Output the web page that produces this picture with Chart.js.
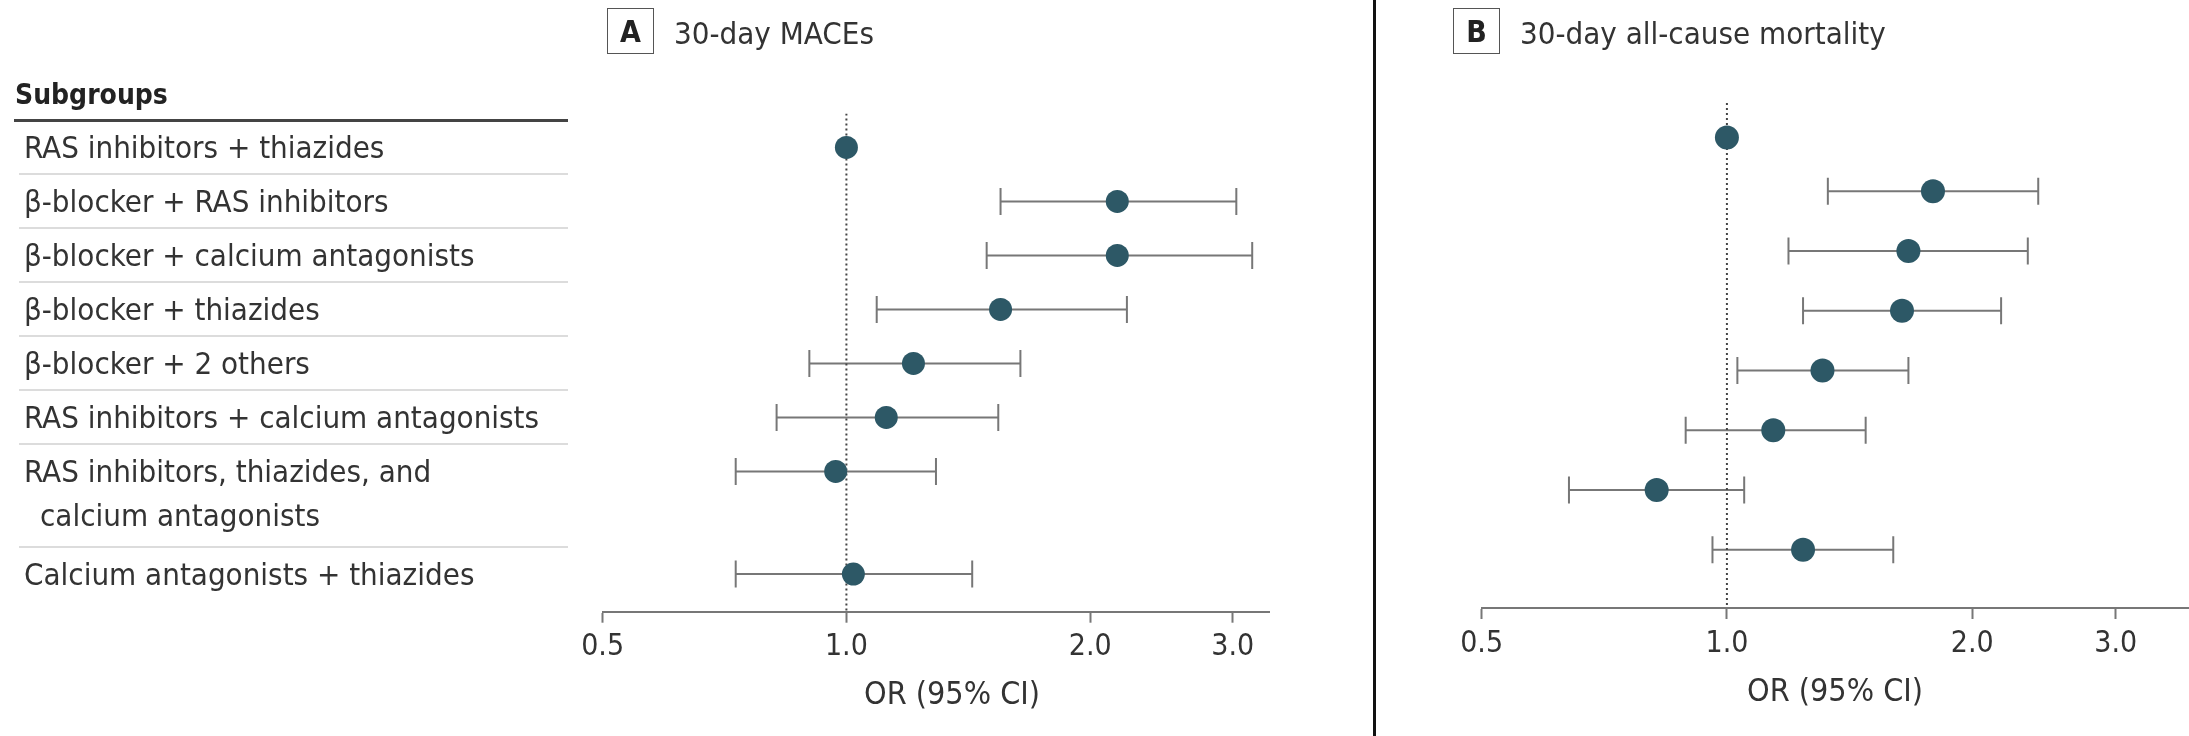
<!DOCTYPE html>
<html>
<head>
<meta charset="utf-8">
<script src="https://cdn.jsdelivr.net/npm/chart.js@4.4.1/dist/chart.umd.min.js"></script>
<style>
  html, body { margin: 0; padding: 0; background: #fff; }
  body {
    width: 2189px; height: 736px; position: relative; overflow: hidden;
    font-family: "DejaVu Sans Condensed", "DejaVu Sans", sans-serif; color: #333;
  }
  canvas { position: absolute; top: 0; }
  #chartA { left: 0; }
  #chartB { left: 1376px; }
  .divider { position: absolute; left: 1373px; top: 0; width: 3px; height: 736px; background: #111; }
  .panel-title {
    position: absolute; top: 8px; height: 46px;
    display: flex; align-items: center; font-size: 31px; white-space: nowrap;
  }
  .panel-title .tag {
    box-sizing: border-box; width: 47px; height: 46px; border: 1.5px solid #555;
    display: flex; align-items: center; justify-content: center;
    font-weight: bold; font-size: 30px; color: #222; margin-right: 20px;
  }
  .panel-title .txt { position: relative; top: 2px; }
  .axis-title { position: absolute; font-size: 32px; line-height: 1; transform: translate(-50%, -50%); white-space: nowrap; }
  .head { position: absolute; left: 15px; font-weight: bold; font-size: 28px; line-height: 44px; color: #222; }
  .rule { position: absolute; left: 19px; width: 549px; height: 2px; background: #dcdcdc; }
  .rule.top { left: 14px; width: 554px; height: 3px; background: #444; }
  .row-label { position: absolute; left: 24px; font-size: 31px; line-height: 44px; white-space: nowrap; }
  .row-label .cont { padding-left: 16px; }
</style>
</head>
<body>
<canvas id="chartA" width="1373" height="736"></canvas>
<canvas id="chartB" width="840" height="736"></canvas>
<div class="divider"></div>
<div class="panel-title" style="left:607px"><span class="tag">A</span><span class="txt">30-day MACEs</span></div>
<div class="panel-title" style="left:1453px"><span class="tag">B</span><span class="txt">30-day all-cause mortality</span></div>
<div class="axis-title" style="left:952px; top:693px">OR (95% CI)</div>
<div class="axis-title" style="left:1835px; top:690px">OR (95% CI)</div>
<div id="table"></div>
<script>
// subgroup labels (one array entry per printed line)
const subgroups = [
  ['RAS inhibitors + thiazides'],
  ['β-blocker + RAS inhibitors'],
  ['β-blocker + calcium antagonists'],
  ['β-blocker + thiazides'],
  ['β-blocker + 2 others'],
  ['RAS inhibitors + calcium antagonists'],
  ['RAS inhibitors, thiazides, and', 'calcium antagonists'],
  ['Calcium antagonists + thiazides']
];
const tickValues = [0.5, 1.0, 2.0, 3.0];

// A: 30-day MACEs, odds ratio and 95% CI (first row is the reference)
const macesOR   = [1.00, 2.16, 2.16, 1.55, 1.21, 1.12, 0.97, 1.02];
const macesLow  = [null, 1.55, 1.49, 1.09, 0.90, 0.82, 0.73, 0.73];
const macesHigh = [null, 3.03, 3.17, 2.22, 1.64, 1.54, 1.29, 1.43];

// B: 30-day all-cause mortality
const mortOR   = [1.00, 1.79, 1.67, 1.64, 1.31, 1.14, 0.82, 1.24];
const mortLow  = [null, 1.33, 1.19, 1.24, 1.03, 0.89, 0.64, 0.96];
const mortHigh = [null, 2.41, 2.34, 2.17, 1.67, 1.48, 1.05, 1.60];

const FONT = '"DejaVu Sans Condensed", "DejaVu Sans", sans-serif';
const TEAL = '#2d5866';
const GREY = '#777';

// row slots: 1 per row, refGap after the reference row, wrapGap per extra label line
function rowPositions(refGap, wrapGap) {
  let pos = 0;
  return subgroups.map((lines, i) => {
    if (i > 0) pos += (i === 1 ? refGap : 1) + (subgroups[i - 1].length - 1) * wrapGap;
    return pos;
  });
}

function forest(id, cfg) {
  const { or, low, high, pos } = cfg;
  const datasets = [{
    data: or.map((v, i) => ({ x: v, y: pos[i] })),
    pointRadius: cfg.radius,
    pointBackgroundColor: TEAL,
    pointBorderWidth: 0,
    order: 0
  }, {
    data: [{ x: 1, y: cfg.yMin }, { x: 1, y: cfg.yMax }],
    showLine: true,
    borderColor: '#444',
    borderWidth: 2,
    borderDash: [2, 3],
    pointRadius: 0,
    order: 1
  }];
  or.forEach((v, i) => {
    if (low[i] == null) return;
    datasets.push({
      data: [{ x: low[i], y: pos[i] }, { x: high[i], y: pos[i] }],
      showLine: true,
      borderColor: GREY,
      borderWidth: 2,
      pointStyle: 'line',
      rotation: 90,
      pointRadius: 13.5,
      pointBorderColor: GREY,
      pointBorderWidth: 2,
      order: 2
    });
  });

  return new Chart(document.getElementById(id), {
    type: 'scatter',
    data: { datasets },
    options: {
      responsive: false,
      animation: false,
      events: [],
      layout: { padding: cfg.padding },
      plugins: { legend: { display: false }, tooltip: { enabled: false } },
      scales: {
        x: {
          type: 'logarithmic',
          min: 0.5,
          max: cfg.xMax,
          afterBuildTicks: s => { s.ticks = tickValues.map(v => ({ value: v })); },
          afterFit: s => { s.height = cfg.axisHeight; },
          ticks: {
            autoSkip: false, maxRotation: 0, padding: 7, color: '#333',
            font: { family: FONT, size: 30 },
            callback: v => Number(v).toFixed(1)
          },
          grid: { drawOnChartArea: false, drawTicks: true, tickLength: 11, tickColor: GREY, tickWidth: 2 },
          border: { display: true, color: GREY, width: 2 }
        },
        y: { type: 'linear', display: false, reverse: true, min: cfg.yMin, max: cfg.yMax }
      }
    }
  });
}

const posA = rowPositions(1, 0.9);
const posB = rowPositions(0.9, 0);

const chartA = forest('chartA', {
  or: macesOR, low: macesLow, high: macesHigh, pos: posA,
  radius: 11.5, xMax: 3.325, yMin: -0.628, yMax: 8.598, axisHeight: 124.3,
  padding: { left: 602.6, right: 104, top: 113.5, bottom: 0 }
});
// panel B axis runs off the right edge of the page
forest('chartB', {
  or: mortOR, low: mortLow, high: mortHigh, pos: posB,
  radius: 12, xMax: 3.69, yMin: -0.576, yMax: 7.873, axisHeight: 128,
  padding: { left: 105.6, right: 27, top: 103, bottom: 0 }
});

// subgroup table, aligned with panel A rows
const table = document.getElementById('table');
const yA = chartA.scales.y;
subgroups.forEach((lines, i) => {
  const sep = document.createElement('div');
  sep.className = i === 0 ? 'rule top' : 'rule';
  sep.style.top = (yA.getPixelForValue(posA[i] - 0.5) - (i === 0 ? 1.5 : 1)) + 'px';
  table.appendChild(sep);

  const lab = document.createElement('div');
  lab.className = 'row-label';
  lab.style.top = (yA.getPixelForValue(posA[i]) - 22) + 'px';
  lab.innerHTML = lines.map((t, k) => `<div class="${k ? 'cont' : ''}">${t}</div>`).join('');
  table.appendChild(lab);
});
const head = document.createElement('div');
head.className = 'head';
head.textContent = 'Subgroups';
head.style.top = (yA.getPixelForValue(posA[0] - 0.5) - 25 - 22) + 'px';
table.appendChild(head);
</script>
</body>
</html>
